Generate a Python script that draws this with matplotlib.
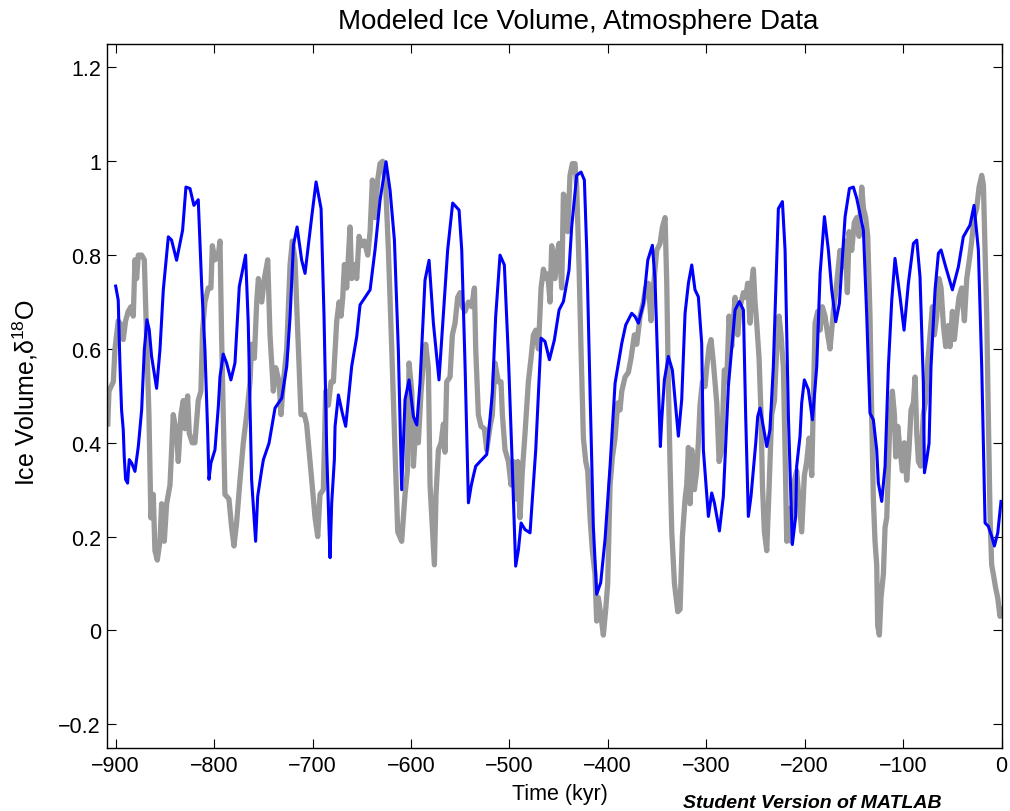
import matplotlib
matplotlib.use("Agg")
import matplotlib.pyplot as plt
import numpy as np

plt.rcParams['font.family'] = ['Liberation Sans', 'DejaVu Sans']
plt.rcParams['mathtext.fontset'] = 'custom'
plt.rcParams['mathtext.rm'] = 'Liberation Sans'
plt.rcParams['mathtext.it'] = 'Liberation Sans:italic'
plt.rcParams['mathtext.bf'] = 'Liberation Sans:bold'

# ---------------- data ----------------
# Modeled ice volume (blue)
model_time = [
    -900, -897.4, -895.7, -894, -892.3, -891.3, -889.9, -887.9, -886.2, -883.8,
    -880.4, -877, -873.6, -870.9, -868.2, -865.9, -863.5, -858.4, -855, -851.6,
    -846.5, -843.2, -838.1, -832, -828.6, -824.5, -820.5, -816.1, -812.7, -809.3,
    -806.6, -805.2, -803.2, -799.1, -795.7, -794, -790.7, -787.3, -782.9, -778.8,
    -774.4, -768, -765.3, -761.9, -757.8,
    -755.7, -751.6, -749.9, -744.2, -738.1, -731.3, -726.2, -722.8, -719.4, -715.7,
    -711, -707.6, -700.8, -696.4, -691.3, -688.3, -685.6, -683.2, -682.2, -680.5,
    -677.8, -677.1, -673.7, -669.7, -666.3, -660.2, -655.1, -651.7, -641.5, -636.5,
    -631.4, -625.3, -621.2, -616.8, -612.8, -609.4, -606,
    -601.9, -597.5, -594.1, -590.8, -585.7, -581.6, -577.2, -571.5, -567, -562.7,
    -557.6, -551.1, -548.4, -545, -541.6, -538.9, -536.6, -534.2, -529.8, -523,
    -517.3, -513.9, -509.5, -505.1, -501, -497.6, -493.6, -490.8, -488.1, -484.1,
    -479, -473.2, -467.8, -463.8, -459.3, -454.3,
    -449.5, -445.1, -439.4, -436.7, -431.6, -427.2, -423.8, -421.4, -418, -414.7,
    -411.3, -407.2, -402.8, -397.7, -392.6, -385.8, -381.8, -375.7, -372.3, -368.9,
    -363.8, -359.4, -354.7, -352, -348.6, -346.6, -345.2, -342.5, -338.5, -334.4,
    -328.3, -324.9, -321.5, -318.1, -314.7, -311.4, -308, -304.6, -302.9,
    -297.8, -294.4, -291.7, -286.6, -282.6, -277.5, -270.7, -266.3, -262.2, -259.9,
    -257.2, -254.5, -252.1, -249.7, -247.7, -245.3, -238.5, -235.2, -231.8, -226.7,
    -222.6, -219.9, -216.5, -212.5, -209.1, -208.1, -204.7, -203, -200.3, -196.2,
    -192.1, -187.7, -184.3, -179.9, -175.9, -172.5, -168.4, -164.7, -158.9, -154.5,
    -150.5, -147.1,
    -140.3, -136.9, -133.6, -130.2, -126.8, -125.1, -121.7, -118.3, -114.9, -111.5,
    -108.2, -103.1, -99, -94.6, -89.5, -86.1, -82.8, -79.4, -78.3, -76,
    -73.6, -71.6, -67.5, -64.1, -61.4, -56.7, -49.9, -43.8, -38.8, -32,
    -27.9, -23.5, -20.1, -16.7, -13.4, -10, -7.2, -3.8, -0.5,
]
model_value = [
    .734, .704, .570, .470, .428, .371, .322, .314, .364, .357,
    .339, .392, .470, .598, .662, .641, .584, .516, .598, .726,
    .839, .832, .789, .853, .945, .942, .906, .918, .740, .598,
    .428, .322, .357, .385, .477, .541, .589, .570, .534, .570,
    .733, .800, .655, .322, .190,
    .286, .343, .364, .399, .474, .495, .563, .669, .821, .860,
    .789, .761, .882, .956, .899, .669, .385, .215, .155, .272,
    .364, .435, .502, .463, .435, .563, .626, .694, .726, .811,
    .917, .999, .938, .832, .598, .300, .492,
    .534, .456, .438, .527, .747, .789, .655, .534, .676, .811,
    .911, .896, .811, .563, .272, .307, .329, .350, .360, .375,
    .506, .669, .800, .779, .584, .385, .137, .172, .229, .215,
    .208, .385, .623, .616, .577, .619,
    .683, .701, .768, .860, .970, .977, .960, .811, .506, .222,
    .077, .102, .194, .350, .527, .612, .651, .676, .669, .655,
    .697, .789, .821, .747, .527, .392, .449, .534, .584, .555,
    .414, .492, .676, .740, .779, .726, .711, .612, .385,
    .243, .293, .272, .212, .286, .520, .683, .701, .683, .456,
    .243, .286, .343, .399, .456, .474, .392, .428, .563, .899,
    .914, .811, .456, .183, .243, .350, .414, .485, .534, .513,
    .449, .563, .761, .882, .811, .726, .658, .697, .882, .942,
    .945, .921,
    .853, .669, .463, .449, .385, .314, .275, .350, .563, .704,
    .793, .711, .640, .740, .825, .832, .754, .527, .336, .364,
    .399, .563, .726, .804, .811, .775, .726, .775, .839, .864,
    .906, .811, .563, .229, .222, .201, .180, .208, .275,
]

# Atmosphere data record (gray)
data_time = [
    -908, -906.8, -902.4, -900.7, -897.4, -894, -892.3, -889.9, -887.2, -884.5,
    -882.1, -880.4, -878.7, -877, -873.6, -870.9, -868.6, -866.2, -864.2, -861.8,
    -860.1, -857.7, -855, -853.3, -850.6, -848.2, -844.8, -841.5, -838.1, -836.4,
    -833.7, -831.3, -829.6, -826.9, -825.2, -822.2, -819.5, -816.1, -813.4, -811.7,
    -809.3, -805.9, -803.2, -801.8, -799.1, -795.7, -794, -792.4, -789, -784.9,
    -782.2, -779.8, -777.1, -773.7, -770.3, -766.9, -763.5, -761.9, -759.1,
    -756.7, -755, -751.6, -748.9, -745.5, -743.2, -739.8, -737.4, -734, -732,
    -729.6, -726.2, -722.8, -720.5, -717.8, -715.1, -711.7, -708.3, -706, -702.5,
    -697.4, -694.7, -692.4, -689, -686.6, -683.9, -681.2, -678.8, -675.4, -673,
    -671, -669.3, -667.6, -665.3, -661.9, -660.2, -657.5, -655.1, -652.7, -650,
    -647.3, -643.9, -641.5, -639.2, -636.5, -633.8, -631.4, -628.7, -625.6, -622.9,
    -619.5, -616.2, -613.4, -609.4, -606, -603.6,
    -601.9, -599.2, -597.5, -595.2, -592.5, -589.7, -587.4, -585, -582.3, -580.6,
    -578.2, -576.2, -574.5, -572.1, -569.4, -567, -565.4, -563.7, -560.3, -557.9,
    -555.2, -552.5, -550.1, -547.7, -545, -541.6, -538.3, -535.5, -534.2, -531.5,
    -528.8, -525.4, -523, -519.6, -517.3, -514.6, -511.2, -508.5, -507.1, -504.4,
    -501, -498.3, -496, -493.6, -491.5, -489.2, -486.8, -484.1, -480.7, -478,
    -475.6, -473.2, -470.5, -467.8, -465.4, -463.1, -461, -458.7, -457, -453.6,
    -450.9,
    -449.5, -446.8, -445.1, -442.8, -440.7, -438.4, -436, -433.3, -431.6, -429.2,
    -427.2, -424.8, -422.4, -420.4, -418, -415.7, -413, -411.3, -409.6, -406.9,
    -404.5, -402.1, -400.1, -397.7, -395.3, -392.6, -389.9, -387.6, -385.8, -382.5,
    -379.1, -376.4, -373, -370.6, -367.2, -363.8, -361.5, -358.8, -356.1, -353.7,
    -350.3, -346.9, -344.5, -341.8, -340.1, -338.5, -336.7, -335, -332.3, -328.9,
    -326.6, -324.2, -321.5, -319.8, -318.1, -316.4, -314.7, -312, -309.7, -308,
    -306.3, -303.9, -301.2,
    -299.5, -297.1, -295.1, -292.7, -289.3, -286.9, -284.3, -281.6, -279.2, -276.8,
    -274.1, -270.7, -268, -265.6, -262.2, -259.9, -257.9, -255.5, -253.8, -252.1,
    -250.4, -248.7, -246.3, -244.3, -242.9, -240.9, -238.5, -236.2, -233.5, -230.7,
    -228.4, -226, -224, -221.6, -219.9, -218.2, -215.8, -213.8, -211.4, -208.1,
    -205.7, -203, -200.3, -197.9, -195.5, -192.8, -190.8, -189.4, -186.7, -184.3,
    -182, -179.3, -176.6, -174.2, -170.8, -167.4, -164.1, -161.6, -158.9, -156.6,
    -154.9, -152.2, -149.5,
    -147.1, -144.7, -142, -140.3, -138, -135.9, -133.6, -131.9, -130.2, -128.5,
    -126.8, -125.8, -124.1, -122.4, -120, -118.3, -116.6, -114.9, -113.2, -110.9,
    -108.8, -107.5, -105.4, -103.1, -100.7, -98.7, -96.3, -94, -91.9, -89.5,
    -87.8, -86.1, -84.4, -82.1, -79.4, -77, -75, -72.6, -70.2, -68.2,
    -65.8, -63.5, -61.4, -59, -56.7, -54, -52.3, -49.9, -47.9, -45.5,
    -43.2, -40.4, -37.7, -35.3, -32, -30.3, -27.9, -25.2, -22.8, -20.1,
    -18.4, -16.7, -15, -13.4, -11.6, -10, -8.3, -5.9, -3.9, -1.5,
    0,
]
data_value = [
    .44, .51, .53, .60, .66, .65, .62, .66, .68, .69,
    .67, .79, .75, .80, .80, .79, .63, .46, .24, .29,
    .17, .15, .19, .27, .19, .27, .31, .46, .42, .36,
    .46, .49, .43, .50, .42, .40, .40, .49, .51, .64,
    .70, .73, .73, .82, .79, .80, .83, .63, .29, .28,
    .22, .18, .23, .32, .40, .46, .53, .61, .58,
    .70, .75, .70, .75, .79, .63, .51, .56, .53, .46,
    .53, .60, .78, .83, .79, .64, .46, .46, .44, .36,
    .24, .20, .29, .30, .51, .48, .53, .53, .66, .70,
    .67, .71, .78, .73, .86, .75, .78, .75, .84, .82,
    .83, .80, .85, .96, .88, .96, .995, 1.0, .945, .81,
    .60, .385, .21, .19, .29, .34,
    .57, .51, .35, .43, .40, .51, .57, .61, .56, .31,
    .215, .14, .29, .385, .40, .44, .38, .53, .54, .63,
    .655, .71, .72, .69, .68, .70, .69, .73, .60, .46,
    .435, .43, .385, .435, .46, .57, .53, .53, .46, .385,
    .36, .31, .36, .28, .36, .24, .34, .42, .53, .58,
    .63, .64, .60, .73, .77, .75, .76, .70, .82, .75,
    .81,
    .825, .73, .93, .92, .85, .97, .995, .995, .945, .775,
    .60, .41, .36, .34, .24, .17, .12, .02, .07, .03,
    -.01, .045, .10, .31, .37, .41, .485, .47, .51, .54,
    .55, .58, .63, .61, .67, .70, .73, .74, .66, .73,
    .81, .825, .86, .88, .74, .53, .35, .21, .10, .04,
    .045, .20, .28, .31, .39, .27, .385, .30, .34, .40,
    .48, .53, .52,
    .56, .605, .62, .57, .485, .36, .385, .555, .53, .67,
    .605, .71, .63, .69, .72, .71, .74, .655, .74, .77,
    .70, .655, .58, .46, .31, .21, .17, .30, .46, .49,
    .60, .67, .63, .56, .385, .19, .26, .19, .31, .34,
    .28, .21, .33, .36, .41, .33, .52, .655, .68, .64,
    .69, .67, .63, .60, .68, .74, .81, .775, .83, .72,
    .85, .81, .87,
    .88, .84, .945, .90, .88, .84, .67, .46, .28, .19,
    .14, .01, -.01, .07, .12, .22, .24, .35, .46, .51,
    .46, .37, .435, .385, .34, .40, .32, .385, .47, .485,
    .54, .42, .36, .35, .46, .49, .57, .63, .69, .63,
    .67, .75, .73, .65, .605, .65, .605, .68, .62, .67,
    .71, .73, .66, .75, .80, .83, .88, .90, .945, .97,
    .95, .81, .67, .46, .24, .14, .12, .09, .07, .03,
    .045,
]

x_ticks = [-900, -800, -700, -600, -500, -400, -300, -200, -100, 0]
x_tick_labels = ['\u2212900', '\u2212800', '\u2212700', '\u2212600', '\u2212500',
                 '\u2212400', '\u2212300', '\u2212200', '\u2212100', '0']
y_ticks = [-0.2, 0, 0.2, 0.4, 0.6, 0.8, 1.0, 1.2]
y_tick_labels = ['\u22120.2', '0', '0.2', '0.4', '0.6', '0.8', '1', '1.2']

title_text = 'Modeled Ice Volume, Atmosphere Data'
x_label = 'Time (kyr)'
y_label = r'Ice Volume,δ$^{18}$O'
footer_text = 'Student Version of MATLAB'

assert len(model_time) == len(model_value)
assert len(data_time) == len(data_value)

# ---------------- figure ----------------
W, H = 1010, 812
fig = plt.figure(figsize=(W / 100, H / 100), dpi=100)
ax_l, ax_r, ax_t, ax_b = 107.3, 1001.5, 45.0, 748.7
ax = fig.add_axes([ax_l / W, 1 - ax_b / H, (ax_r - ax_l) / W, (ax_b - ax_t) / H])

ax.plot(data_time, data_value, color=(0.6, 0.6, 0.6), lw=3.8,
        solid_joinstyle='round', zorder=2)
ax.plot(model_time, model_value, color=(0, 0, 1), lw=2.2,
        solid_joinstyle='round', zorder=3)

ax.set_xlim(-908.5, 0)
ax.set_ylim(-0.25, 1.25)
ax.set_xticks(x_ticks)
ax.set_xticklabels(x_tick_labels)
ax.set_yticks(y_ticks)
ax.set_yticklabels(y_tick_labels)
ax.tick_params(direction='in', top=True, right=True, length=6.5, width=0.8,
               labelsize=15.5, colors='black')
ax.tick_params(axis='x', pad=5)
ax.tick_params(axis='y', pad=4.5)
for s in ax.spines.values():
    s.set_linewidth(1.0)

fig.text(578 / W, 1 - 29.3 / H, title_text, ha='center', va='baseline', fontsize=20)
fig.text(559.5 / W, 1 - 800 / H, x_label, ha='center', va='baseline', fontsize=15.5)
fig.text(40 / W, 1 - 392.5 / H, y_label, rotation=90, ha='right', va='center',
         fontsize=18)
fig.text(812.5 / W, 1 - 808 / H, footer_text, ha='center', va='baseline',
         fontsize=14, fontweight='bold', fontstyle='italic')

fig.savefig('out.png', dpi=100)
